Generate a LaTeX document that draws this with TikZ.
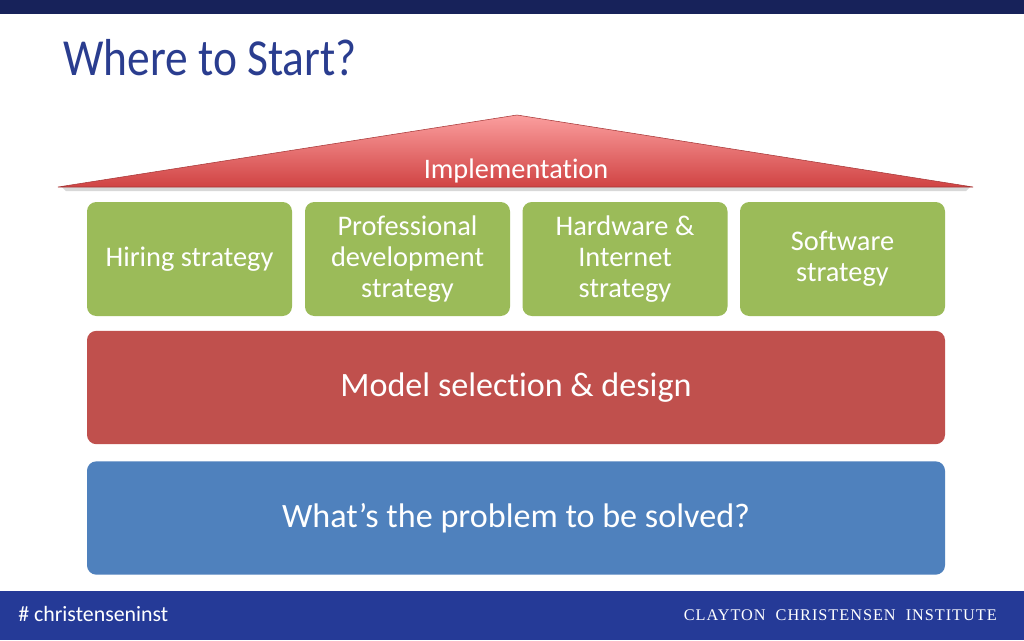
\documentclass[tikz,border=0pt]{standalone}
\usepackage{fontspec}
\setmainfont{Carlito}[Ligatures=NoCommon]
\newfontfamily\titlefont{Carlito}[Ligatures=NoCommon, FakeStretch=0.874]
\newfontfamily\footserif{Liberation Serif}[LetterSpace=6]
\definecolor{topbar}{HTML}{17225A}
\definecolor{footbar}{HTML}{253A97}
\definecolor{titleblue}{HTML}{2A3D8F}
\definecolor{gfill}{HTML}{9BBB59}
\definecolor{rfill}{HTML}{C0504D}
\definecolor{bfill}{HTML}{4F81BD}
\definecolor{roofTop}{HTML}{FB9E9E}
\definecolor{roofBot}{HTML}{D04343}
\begin{document}
\begin{tikzpicture}[x=0.75pt,y=-0.75pt,
  box/.style={rounded corners=7pt, inner sep=2pt, text=white, align=center},
  greenbox/.style={box, fill=gfill, minimum width=153.75pt, minimum height=85.5pt,
    font=\fontsize{21.3pt}{23.2pt}\selectfont},
  widebox/.style={box, minimum width=643.5pt, minimum height=85pt,
    font=\fontsize{25.6pt}{30pt}\selectfont}]
\useasboundingbox (0,0) rectangle (1024,640);
\fill[white] (0,0) rectangle (1024,640);
% bars
\fill[topbar] (0,0) rectangle (1024,14);
\fill[footbar] (0,591) rectangle (1024,640);
% title
\node[anchor=base west, inner sep=0pt, text=titleblue,
  font=\titlefont\fontsize{39pt}{45pt}\selectfont] (title) at (63,75) {Where to Start?};
% roof shadow
\fill[black!25, opacity=0.6] (62,187) -- (970,187) -- (966,191) -- (66,191) -- cycle;
% roof
\shade[top color=roofTop, bottom color=roofBot, draw=roofBot!80!black, line width=0.4pt]
  (58,187) -- (517,115) -- (973,187) -- cycle;
\node[text=white, font=\fontsize{21.2pt}{24pt}\selectfont] (impl) at (516,171) {Implementation};
% green boxes
\node[greenbox] (hire) at (189.5,259) {Hiring strategy};
\node[greenbox] (prof) at (407.5,259) {Professional\\development\\strategy};
\node[greenbox] (hard) at (625,259) {Hardware \&\\Internet\\strategy};
\node[greenbox] (soft) at (842.5,259) {Software\\strategy};
% wide boxes
\node[widebox, fill=rfill] (model) at (516,387.5) {\raisebox{-2pt}{Model selection \& design}};
\node[widebox, fill=bfill] (prob) at (516,518) {\raisebox{-2pt}{What’s the problem to be solved?}};
% footer
\node[anchor=base west, inner sep=0pt, text=white,
  font=\fontsize{16.4pt}{18pt}\selectfont] (hash) at (18,621) {\# christenseninst};
\node[anchor=base east, inner sep=0pt, text=white,
  font=\footserif\fontsize{12.2pt}{15pt}\selectfont] (inst) at (997,620) {CLAYTON\ \ CHRISTENSEN\ \ INSTITUTE};
\end{tikzpicture}
\end{document}
